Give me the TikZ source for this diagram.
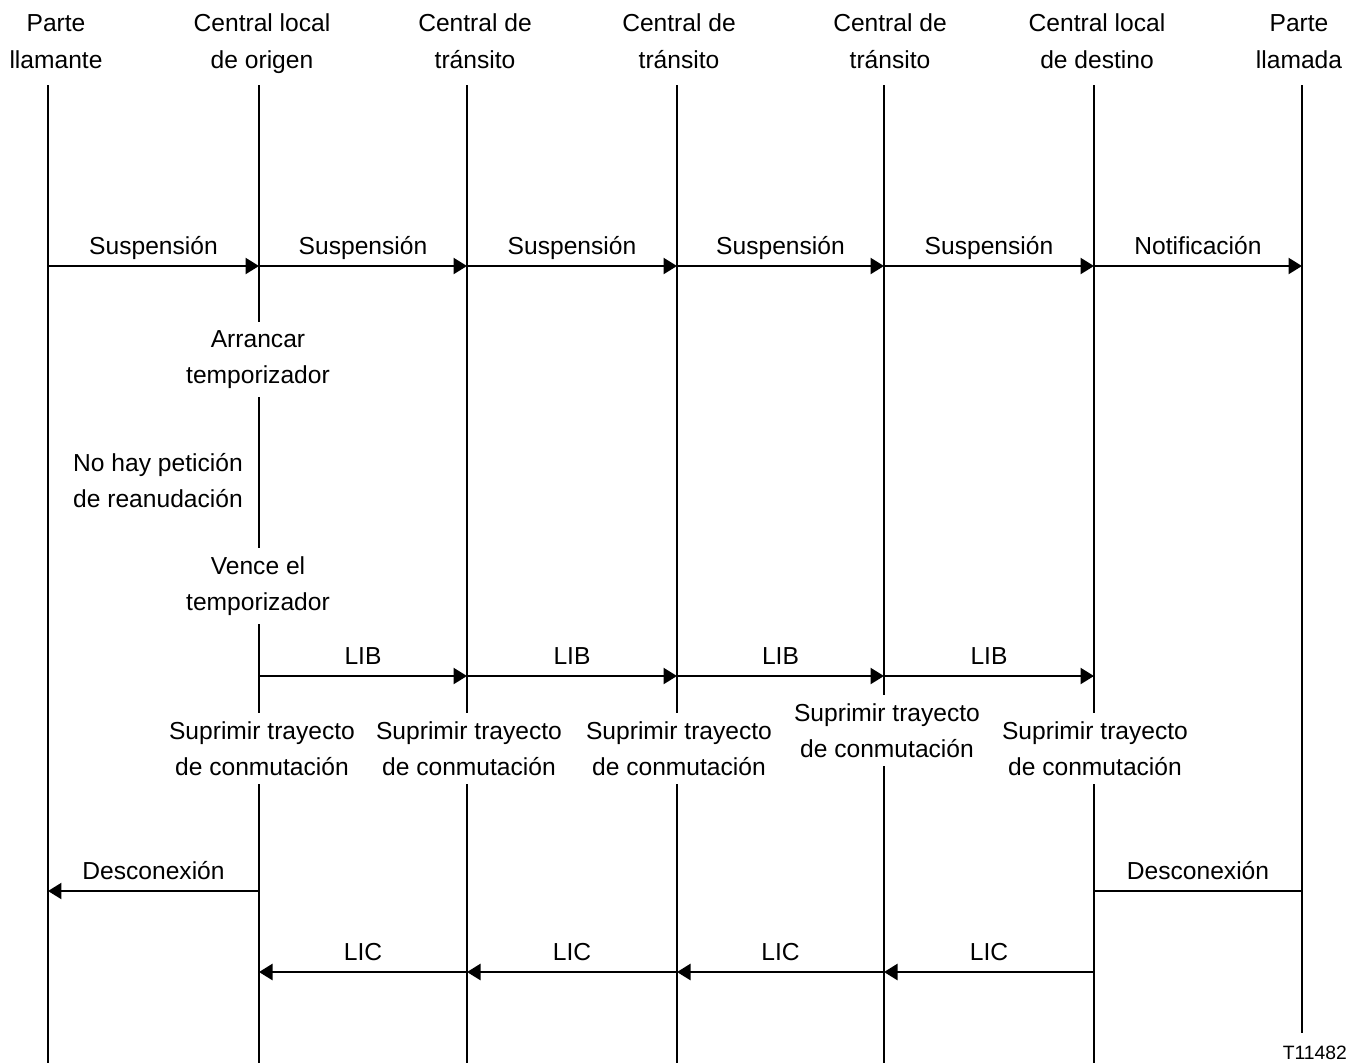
\documentclass[tikz,border=0pt]{standalone}
\usepackage{fontspec}
\setmainfont{Liberation Sans}
\usepackage{tikz}
\usetikzlibrary{arrows.meta, calc, positioning}

\begin{document}
\begin{tikzpicture}[x=0.02cm, y=-0.02cm,
        every node/.style={font=\fontsize{14}{20}\selectfont},
        hdr/.style={align=center, anchor=base, font=\fontsize{14}{21}\selectfont},
        note/.style={align=center, anchor=base, inner ysep=5pt},
        lbl/.style={anchor=base, yshift=0.23cm},
        life/.style={line width=1.4pt},
        msg/.style={line width=1.4pt, -{Triangle[length=0.27cm, width=0.32cm]}}]
    \useasboundingbox (0,0) rectangle (1349,1063);

    % points on the lifelines
    \foreach \n/\x in {pa/48, co/259, t1/467, t2/677, t3/884, cd/1094, pb/1302} {
        \coordinate (\n) at (\x,85);
        \coordinate (\n-end) at (\x,1063);
        \coordinate (\n-sus) at (\x,266);
        \coordinate (\n-lib) at (\x,676);
        \coordinate (\n-des) at (\x,891);
        \coordinate (\n-lic) at (\x,972);
    }
    \coordinate (pb-end) at (1302,1033);

    % headers
    \node[hdr] (h-pa) at (56,68) {Parte\\llamante};
    \node[hdr] (h-co) at (262,68) {Central local\\de origen};
    \node[hdr] (h-t1) at (475,68) {Central de\\tránsito};
    \node[hdr] (h-t2) at (679,68) {Central de\\tránsito};
    \node[hdr] (h-t3) at (890,68) {Central de\\tránsito};
    \node[hdr] (h-cd) at (1097,68) {Central local\\de destino};
    \node[hdr] (h-pb) at (1299,68) {Parte\\llamada};

    % actions
    \node[note] (arr) at (258,383) {Arrancar\\temporizador};
    \node[note] (nohay) at (158,507) {No hay petición\\de reanudación};
    \node[note] (vence) at (258,610) {Vence el\\temporizador};
    \node[note] (sup-co) at (262,775) {Suprimir trayecto\\de conmutación};
    \node[note] (sup-t1) at (469,775) {Suprimir trayecto\\de conmutación};
    \node[note] (sup-t2) at (679,775) {Suprimir trayecto\\de conmutación};
    \node[note] (sup-t3) at (887,757) {Suprimir trayecto\\de conmutación};
    \node[note] (sup-cd) at (1095,775) {Suprimir trayecto\\de conmutación};

    % lifelines
    \draw[life] (pa) -- (pa-end);
    \draw[life] (co) -- (co |- arr.north) (co |- arr.south) -- (co |- vence.north)
        (co |- vence.south) -- (co |- sup-co.north) (co |- sup-co.south) -- (co-end);
    \foreach \n in {t1, t2, t3, cd}
        \draw[life] (\n) -- (\n |- sup-\n.north) (\n |- sup-\n.south) -- (\n-end);
    \draw[life] (pb) -- (pb-end);

    % messages
    \foreach \a/\b/\lab in {pa/co/Suspensión, co/t1/Suspensión, t1/t2/Suspensión,
            t2/t3/Suspensión, t3/cd/Suspensión, cd/pb/Notificación}
        \draw[msg] (\a-sus) -- node[lbl] {\lab} (\b-sus);
    \foreach \a/\b in {co/t1, t1/t2, t2/t3, t3/cd}
        \draw[msg] (\a-lib) -- node[lbl] {LIB} (\b-lib);
    \draw[msg] (co-des) -- node[lbl] {Desconexión} (pa-des);
    \draw[life] (pb-des) -- node[lbl] {Desconexión} (cd-des);
    \foreach \a/\b in {cd/t3, t3/t2, t2/t1, t1/co}
        \draw[msg] (\a-lic) -- node[lbl] {LIC} (\b-lic);

    \node[anchor=base east, inner xsep=1pt, font=\fontsize{11}{13}\selectfont] (ref) at (1349,1059) {T11482};
\end{tikzpicture}
\end{document}
